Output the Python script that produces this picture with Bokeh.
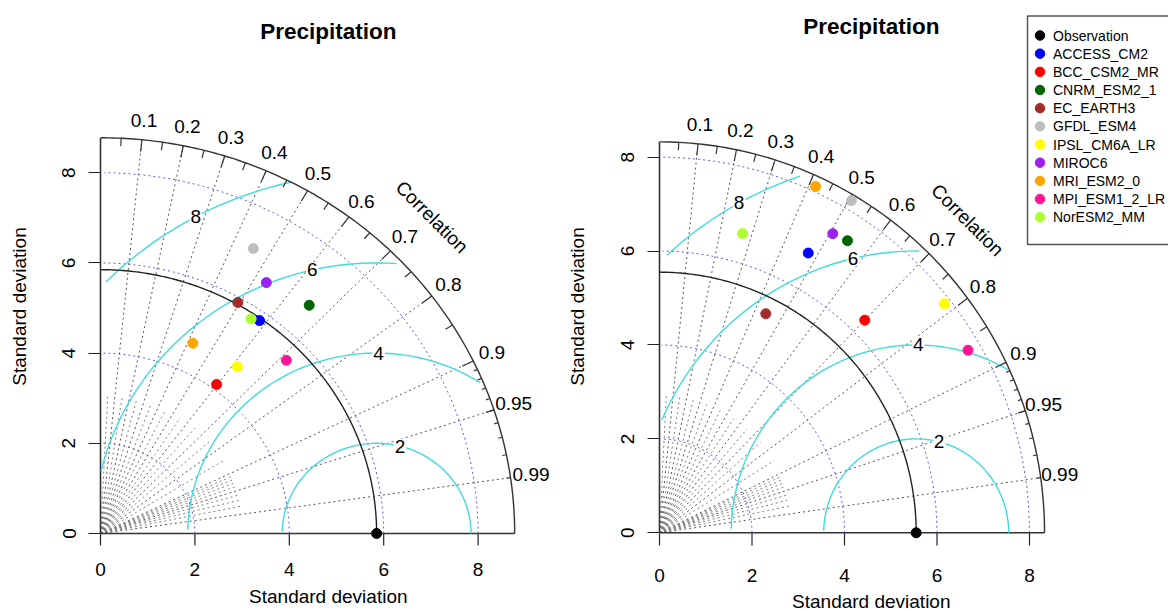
import numpy as np
from bokeh.plotting import figure
from bokeh.models import FixedTicker, Range1d
from bokeh.layouts import row
from bokeh.embed import file_html
from bokeh.resources import INLINE
from bokeh.core.properties import value

# ---------------- data ----------------
models = ["ACCESS_CM2", "BCC_CSM2_MR", "CNRM_ESM2_1", "EC_EARTH3", "GFDL_ESM4",
          "IPSL_CM6A_LR", "MIROC6", "MRI_ESM2_0", "MPI_ESM1_2_LR", "NorESM2_MM"]
model_colors = ["#0000FF", "#FF0000", "#006400", "#A52A2A", "#BEBEBE",
                "#FFFF00", "#A020F0", "#FFA500", "#FF1493", "#ADFF2F"]
obs_name = "Observation"
obs_color = "#000000"

left_ref_sd = 5.85
left_sd = [5.80, 4.12, 6.72, 5.89, 7.10, 4.70, 6.58, 4.65, 5.50, 5.73]
left_cor = [0.581, 0.597, 0.658, 0.494, 0.456, 0.617, 0.534, 0.421, 0.716, 0.557]

right_ref_sd = 5.55
right_sd = [6.77, 6.34, 7.43, 5.20, 8.20, 7.86, 7.39, 8.11, 7.72, 6.62]
right_cor = [0.475, 0.700, 0.547, 0.442, 0.506, 0.784, 0.507, 0.416, 0.864, 0.271]

sd_ticks = [0, 2, 4, 6, 8]
sd_tick_labels = ["0", "2", "4", "6", "8"]
rms_levels = [2, 4, 6, 8]
corr_label_values = [0.1, 0.2, 0.3, 0.4, 0.5, 0.6, 0.7, 0.8, 0.9, 0.95, 0.99]
corr_label_text = ["0.1", "0.2", "0.3", "0.4", "0.5", "0.6", "0.7", "0.8", "0.9", "0.95", "0.99"]
corr_big = [0.1, 0.2, 0.3, 0.4, 0.5, 0.6, 0.7, 0.8, 0.9]
corr_med = [0.05, 0.15, 0.25, 0.35, 0.45, 0.55, 0.65, 0.75, 0.85, 0.95]
corr_small = [0.91, 0.92, 0.93, 0.94, 0.95, 0.96, 0.97, 0.98, 0.99]
corr_grad_lines = [0.1, 0.2, 0.3, 0.4, 0.5, 0.6, 0.7, 0.8, 0.9, 0.95, 0.99]
corr_minor_lines = [0.05, 0.15, 0.25, 0.35, 0.45, 0.55, 0.65, 0.75, 0.85,
                    0.91, 0.92, 0.93, 0.94, 0.96, 0.97, 0.98]

title_text = "Precipitation"
axis_title = "Standard deviation"
corr_title = "Correlation"

FONT = "Liberation Sans"
FS = "19px"


def taylor(width, page_left, ox, oy, sx, sy, frame_left, ref_sd, sds, cors,
           title_py, xlab_py, xtitle_py, yl_so, yt_so):
    maxsd = 1.5 * ref_sd
    x0 = (frame_left - ox) / sx
    x1 = (page_left + width - ox) / sx
    y0 = (oy - 612) / sy
    y1 = oy / sy
    p = figure(width=width, height=612, output_backend="svg", toolbar_location=None,
               x_range=Range1d(x0, x1), y_range=Range1d(y0, y1), x_axis_location=None,
               min_border_left=int(round(frame_left - page_left)), min_border_right=0,
               min_border_top=0, min_border_bottom=0)
    p.grid.visible = False
    p.outline_line_color = None
    p.background_fill_color = "white"
    p.border_fill_color = "white"

    # y axis (library axis)
    ax = p.yaxis[0]
    ax.ticker = FixedTicker(ticks=sd_ticks)
    ax.minor_tick_line_color = None
    ax.axis_line_color = None
    ax.major_tick_in = int(round(ox - frame_left))
    ax.major_tick_out = 5
    ax.major_tick_line_color = "#222222"
    ax.major_tick_line_width = 1.2
    ax.major_label_text_font = FONT
    ax.major_label_text_font_size = FS
    ax.major_label_text_color = "black"
    ax.major_label_orientation = "vertical"
    ax.major_label_standoff = yl_so
    ax.axis_label = axis_title
    ax.axis_label_text_font = FONT
    ax.axis_label_text_font_size = FS
    ax.axis_label_text_font_style = "normal"
    ax.axis_label_text_color = "black"
    ax.axis_label_standoff = yt_so

    # x axis drawn in data space, below the zero line
    tick_len = (545 - oy) / sy
    p.segment(sd_ticks, [0] * len(sd_ticks), sd_ticks, [-tick_len] * len(sd_ticks),
              line_color="#222222", line_width=1.2)
    p.text(sd_ticks, [(oy - xlab_py) / sy] * len(sd_ticks), text=sd_tick_labels,
           text_font=value(FONT), text_font_size=FS, text_align="center",
           text_baseline="middle", text_color="black")
    p.text([0.55 * maxsd], [(oy - xtitle_py) / sy], text=[axis_title],
           text_font=value(FONT), text_font_size=FS, text_align="center",
           text_baseline="middle", text_color="black")

    # correlation gradient lines
    xs, ys = [], []
    for g in corr_grad_lines:
        xs.append([0, maxsd * g]); ys.append([0, maxsd * np.sqrt(1 - g * g)])
    p.multi_line(xs, ys, line_color="#555555", line_width=1, line_dash="2 3")
    xs, ys = [], []
    for g in corr_minor_lines:
        r = 0.35 * maxsd
        xs.append([0, r * g]); ys.append([0, r * np.sqrt(1 - g * g)])
    p.multi_line(xs, ys, line_color="#808080", line_width=1, line_dash="2 3")

    # axes segments
    p.segment([0, 0], [0, 0], [0, maxsd], [maxsd, 0], line_color="#333333", line_width=1.6)

    # sd arcs
    a = np.arange(0, np.pi / 2, 0.03)
    xs = [list(np.cos(a) * s) for s in sd_ticks if 0 < s <= maxsd]
    ys = [list(np.sin(a) * s) for s in sd_ticks if 0 < s <= maxsd]
    p.multi_line(xs, ys, line_color="#5a5aff", line_width=1, line_dash="2 3")

    # RMS contours
    ang = np.arange(0, np.pi, 0.03)
    labelpos = [44, 52, 60, 69]
    lx, ly, lt = [], [], []
    xs, ys = [], []
    for gi, g in enumerate(rms_levels):
        xc = np.cos(ang) * g + ref_sd
        yc = np.sin(ang) * g
        neg = np.where(xc < 0)[0]
        end = neg.min() if len(neg) else len(ang)
        out = np.where(xc * xc + yc * yc > maxsd * maxsd)[0]
        start = out.max() + 1 if len(out) else 0
        xs.append(list(xc[start:end])); ys.append(list(yc[start:end]))
        k = labelpos[gi]
        if xc[k] > 0:
            lx.append(xc[k]); ly.append(yc[k]); lt.append(str(g))
    p.multi_line(xs, ys, line_color="#40dcdc", line_width=1.4)

    # outer arc
    a = np.arange(0, np.pi / 2, 0.01)
    p.line(np.cos(a) * maxsd, np.sin(a) * maxsd, line_color="#333333", line_width=1.4)

    # ticks on the correlation arc
    def ticks(vals, frac):
        t = np.arccos(np.array(vals))
        p.segment(np.cos(t) * maxsd, np.sin(t) * maxsd, np.cos(t) * frac * maxsd,
                  np.sin(t) * frac * maxsd, line_color="#333333", line_width=1.2)
    ticks(corr_big, 0.97)
    ticks(corr_med, 0.98)
    ticks(corr_small, 0.99)

    # reference arc
    p.line(np.cos(a) * ref_sd, np.sin(a) * ref_sd, line_color="#222222", line_width=1.4)

    # RMS labels
    p.text(lx, ly, text=lt, text_font=value(FONT), text_font_size=FS, text_align="center",
           text_baseline="middle", text_color="black", background_fill_color="white",
           padding=1)

    # correlation labels
    t = np.arccos(np.array(corr_label_values))
    p.text(np.cos(t) * 1.05 * maxsd, np.sin(t) * 1.05 * maxsd, text=corr_label_text,
           text_font=value(FONT), text_font_size=FS, text_align="center",
           text_baseline="middle", text_color="black")
    p.text([0.8 * maxsd], [0.8 * maxsd], text=[corr_title], angle=-np.pi / 4,
           text_font=value(FONT), text_font_size=FS, text_align="center",
           text_baseline="middle", text_color="black")

    # title (centred over the plot region, as R's main)
    p.text([0.55 * maxsd], [(oy - title_py) / sy], text=[title_text], text_font=value(FONT),
           text_font_size="22.5px", text_font_style="bold", text_align="center",
           text_baseline="middle", text_color="black")

    # points
    p.scatter([ref_sd], [0], size=10, fill_color=obs_color, line_color=obs_color)
    for col, s, c in zip(model_colors, sds, cors):
        p.scatter([s * c], [s * np.sqrt(1 - c * c)], size=10, fill_color=col, line_color=col)
    return p


# left: origin page px (100,533), 47.2 px/unit x, 45.1 px/unit y
L_OX, L_OY, L_SX, L_SY = 100, 533, 47.2, 45.1
pl = taylor(555, 0, L_OX, L_OY, L_SX, L_SY, 93, left_ref_sd, left_sd, left_cor,
            31, 569, 596, 13, 30)
# right: origin page px (659,532.3), 46.25 px/unit x, 46.96 px/unit y
R_OX, R_OY, R_SX, R_SY = 659, 532.3, 46.25, 46.96
pr = taylor(613, 555, R_OX, R_OY, R_SX, R_SY, 652, right_ref_sd, right_sd, right_cor,
            26, 575, 601, 13, 31)

# legend (box runs past the right edge of the page, as in the reference)
def rx(px):
    return (px - R_OX) / R_SX


def ry(py):
    return (R_OY - py) / R_SY


leg_names = [obs_name] + models
leg_colors = [obs_color] + model_colors
pr.quad(left=[rx(1027)], right=[rx(1190)], top=[ry(15.5)], bottom=[ry(244)],
        fill_color="white", line_color="#555555", line_width=1.5)
leg_y = [ry(35 + 18.17 * i) for i in range(len(leg_names))]
pr.scatter([rx(1039.5)] * len(leg_names), leg_y, size=9.5, fill_color=leg_colors,
           line_color=leg_colors)
pr.text([rx(1052.5)] * len(leg_names), leg_y, text=leg_names, text_font=value(FONT),
        text_font_size="14px", text_align="left", text_baseline="middle",
        text_color="black")

layout = row(pl, pr)
open("out.html", "w").write(file_html(layout, INLINE))
